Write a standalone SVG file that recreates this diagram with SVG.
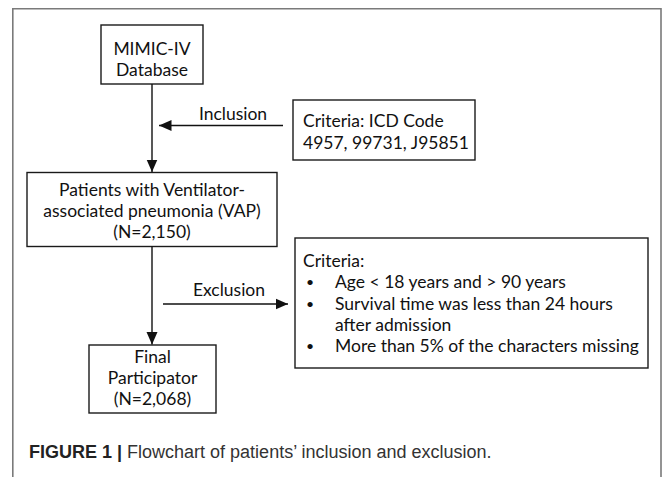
<svg xmlns="http://www.w3.org/2000/svg" width="663" height="477" viewBox="0 0 663 477">
  <defs>
    <marker id="arrow" markerUnits="userSpaceOnUse" markerWidth="13" markerHeight="12" refX="12.5" refY="6" orient="auto">
      <path d="M0,0.5 L12.5,6 L0,11.5 Z" fill="#111"/>
    </marker>
    <style>
      .box { fill: #fff; stroke: #1a1a1a; stroke-width: 1.4; }
      .t { font-family: Lato, "Open Sans", "Liberation Sans", sans-serif; font-size: 17.5px; fill: #111; }
      .c { text-anchor: middle; }
      .b { font-size: 14px; }
      .edge { stroke: #111; stroke-width: 1.4; fill: none; marker-end: url(#arrow); }
      .cap { font-family: "Liberation Sans", Arial, sans-serif; font-size: 18px; fill: #333; }
      .frame { fill: none; stroke: #7a7a7a; stroke-width: 1.6; }
    </style>
  </defs>

  <rect x="0" y="0" width="663" height="477" fill="#fff"/>
  <path class="frame" d="M12.8,480 L12.8,8.8 L661,8.8 L661,480"/>

  <g id="mimic">
    <rect class="box" x="101" y="25" width="102" height="59"/>
    <text class="t c" x="152" y="55">MIMIC-IV</text>
    <text class="t c" x="152" y="76">Database</text>
  </g>

  <g id="icd">
    <rect class="box" x="293" y="100" width="182" height="60"/>
    <text class="t" x="303" y="127">Criteria: ICD Code</text>
    <text class="t" x="303" y="149">4957, 99731, J95851</text>
  </g>

  <g id="vap">
    <rect class="box" x="27" y="172.5" width="250" height="74"/>
    <text class="t c" x="152" y="196">Patients with Ventilator-</text>
    <text class="t c" x="152" y="217">associated pneumonia (VAP)</text>
    <text class="t c" x="152" y="238">(N=2,150)</text>
  </g>

  <g id="exclusion-criteria">
    <rect class="box" x="295" y="238" width="353" height="130"/>
    <text class="t" x="303" y="267">Criteria:</text>
    <text class="t b" x="306" y="287">•</text>
    <text class="t" x="335" y="288">Age &lt; 18 years and &gt; 90 years</text>
    <text class="t b" x="306" y="309">•</text>
    <text class="t" x="335" y="310">Survival time was less than 24 hours</text>
    <text class="t" x="335" y="331">after admission</text>
    <text class="t b" x="306" y="351">•</text>
    <text class="t" x="335" y="352">More than 5% of the characters missing</text>
  </g>

  <g id="final">
    <rect class="box" x="89" y="345" width="127" height="68"/>
    <text class="t c" x="152.5" y="363">Final</text>
    <text class="t c" x="152.5" y="384">Participator</text>
    <text class="t c" x="152.5" y="405">(N=2,068)</text>
  </g>

  <g id="connectors">
    <line class="edge" x1="152" y1="84" x2="152" y2="172"/>
    <line class="edge" x1="283" y1="125.5" x2="159" y2="125.5"/>
    <text class="t c" x="233" y="120">Inclusion</text>
    <line class="edge" x1="152" y1="246.5" x2="152" y2="344.5"/>
    <line class="edge" x1="163" y1="304" x2="288" y2="304"/>
    <text class="t c" x="229" y="296">Exclusion</text>
  </g>

  <g id="caption">
    <text class="cap" x="29" y="458"><tspan font-weight="bold" fill="#222">FIGURE 1</tspan><tspan dx="5" font-weight="bold" fill="#222">|</tspan><tspan dx="5">Flowchart of patients’ inclusion and exclusion.</tspan></text>
  </g>
</svg>
